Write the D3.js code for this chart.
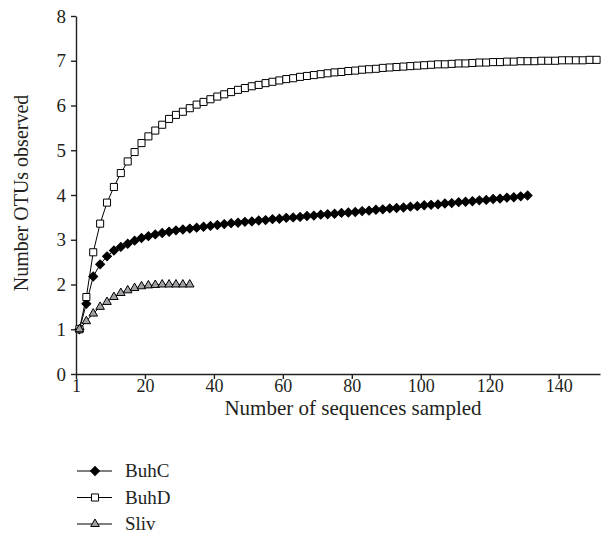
<!DOCTYPE html>
<html>
<head>
<meta charset="utf-8">
<script src="https://cdn.jsdelivr.net/npm/d3@7"></script>
<style>
  body { margin: 0; background: #fff; }
  text { font-family: "Liberation Serif", "Times New Roman", serif; fill: #231f20; }
</style>
</head>
<body>
<div id="chart"></div>
<script>
// sampled every 2 sequences, starting at 1
var buhC = [1.00, 1.57, 2.18, 2.45, 2.63, 2.76, 2.84, 2.91, 2.98, 3.04, 3.08, 3.12, 3.15, 3.18, 3.21, 3.23, 3.25,
  3.27, 3.29, 3.31, 3.33, 3.35, 3.37, 3.38, 3.40, 3.41, 3.43, 3.44, 3.46, 3.47, 3.49, 3.50, 3.51, 3.53, 3.54,
  3.56, 3.57, 3.58, 3.60, 3.61, 3.62, 3.64, 3.65, 3.67, 3.68, 3.70, 3.71, 3.72, 3.74, 3.75, 3.77, 3.78, 3.79,
  3.81, 3.82, 3.84, 3.85, 3.86, 3.88, 3.89, 3.91, 3.92, 3.94, 3.95, 3.97, 3.99];
var buhD = [1.00, 1.72, 2.72, 3.36, 3.83, 4.18, 4.49, 4.75, 4.96, 5.16, 5.31, 5.44, 5.57, 5.70, 5.79, 5.86, 5.94,
  6.02, 6.08, 6.14, 6.20, 6.25, 6.30, 6.35, 6.39, 6.43, 6.46, 6.50, 6.53, 6.56, 6.59, 6.61, 6.64, 6.66, 6.68,
  6.70, 6.72, 6.74, 6.75, 6.77, 6.78, 6.80, 6.81, 6.82, 6.84, 6.85, 6.86, 6.87, 6.88, 6.89, 6.90, 6.91, 6.92,
  6.92, 6.93, 6.94, 6.94, 6.95, 6.96, 6.96, 6.97, 6.97, 6.98, 6.98, 6.99, 6.99, 6.99, 7.00, 7.00, 7.00, 7.01,
  7.01, 7.01, 7.01, 7.02, 7.02];
var sliv = [1.00, 1.18, 1.35, 1.50, 1.61, 1.72, 1.81, 1.87, 1.92, 1.96, 1.98, 1.99, 2.00, 2.00, 2.00, 2.00, 2.00];

var seriesNames = ["BuhC", "BuhD", "Sliv"];
var xTicks = [0, 20, 40, 60, 80, 100, 120, 140];
var yTicks = [0, 1, 2, 3, 4, 5, 6, 7, 8];

var width = 608, height = 535;
var margin = { left: 76, top: 16 };
var plotW = 524, plotH = 358;

var svg = d3.select("#chart").append("svg")
    .attr("width", width)
    .attr("height", height);

var g = svg.append("g")
    .attr("transform", "translate(" + margin.left + "," + margin.top + ")");

var x = d3.scaleLinear().domain([0, 152]).range([0, plotW]);
var y = d3.scaleLinear().domain([0, 8]).range([plotH, 0]);

// axes
var xAxis = g.append("g")
    .attr("transform", "translate(0," + plotH + ")")
    .call(d3.axisBottom(x).tickValues(xTicks).tickSize(5).tickSizeOuter(0)
        .tickFormat(function (d) { return d === 0 ? "1" : d; }));
var yAxis = g.append("g")
    .call(d3.axisLeft(y).tickValues(yTicks).tickSize(5).tickSizeOuter(0));

[xAxis, yAxis].forEach(function (a) {
    a.selectAll("path, line").attr("stroke", "#231f20").attr("stroke-width", 1.4);
    a.selectAll("text").style("font-size", "19px").style("font-family", "Liberation Serif");
});
xAxis.selectAll("text").style("font-size", "18px").attr("y", 5);
yAxis.selectAll("text").attr("x", -10);

// axis titles
g.append("text")
    .attr("x", 277)
    .attr("y", plotH + 41)
    .attr("text-anchor", "middle")
    .style("font-size", "21px")
    .text("Number of sequences sampled");

g.append("text")
    .attr("transform", "translate(-48," + (plotH / 2 - 2) + ") rotate(-90)")
    .attr("text-anchor", "middle")
    .style("font-size", "20px")
    .text("Number OTUs observed");

// series
function toPoints(vals) {
    return vals.map(function (v, i) { return { n: 1 + i * 2, v: v }; });
}

var line = d3.line()
    .x(function (d) { return x(d.n); })
    .y(function (d) { return y(d.v); });

var styles = {
    BuhC: { symbol: d3.symbolSquare, size: 40, rotate: 45, fill: "#000" },
    BuhD: { symbol: d3.symbolSquare, size: 50, rotate: 0, fill: "#fff" },
    Sliv: { symbol: d3.symbolTriangle, size: 32, rotate: 0, fill: "#a0a2a5" }
};

var data = { BuhC: toPoints(buhC), BuhD: toPoints(buhD), Sliv: toPoints(sliv) };

seriesNames.forEach(function (name) {
    var st = styles[name];
    g.append("path")
        .datum(data[name])
        .attr("d", line)
        .attr("fill", "none")
        .attr("stroke", "#000")
        .attr("stroke-width", 1);

    g.selectAll(".m-" + name)
        .data(data[name])
        .enter()
        .append("path")
        .attr("class", "m-" + name)
        .attr("d", d3.symbol().type(st.symbol).size(st.size))
        .attr("transform", function (d) {
            return "translate(" + x(d.n) + "," + y(d.v) + ") rotate(" + st.rotate + ")";
        })
        .attr("fill", st.fill)
        .attr("stroke", "#000")
        .attr("stroke-width", 1);
});

// legend
var legend = svg.append("g").attr("transform", "translate(77,471)");
seriesNames.forEach(function (name, i) {
    var st = styles[name];
    var row = legend.append("g").attr("transform", "translate(0," + (i * 26.5) + ")");
    row.append("line")
        .attr("x1", 0).attr("x2", 35)
        .attr("stroke", "#000").attr("stroke-width", 1.2);
    row.append("path")
        .attr("d", d3.symbol().type(st.symbol).size(st.size))
        .attr("transform", "translate(18,0) rotate(" + st.rotate + ")")
        .attr("fill", st.fill)
        .attr("stroke", "#000")
        .attr("stroke-width", 1);
    row.append("text")
        .attr("x", 48)
        .attr("dy", "0.33em")
        .style("font-size", "19px")
        .text(name);
});
</script>
</body>
</html>
